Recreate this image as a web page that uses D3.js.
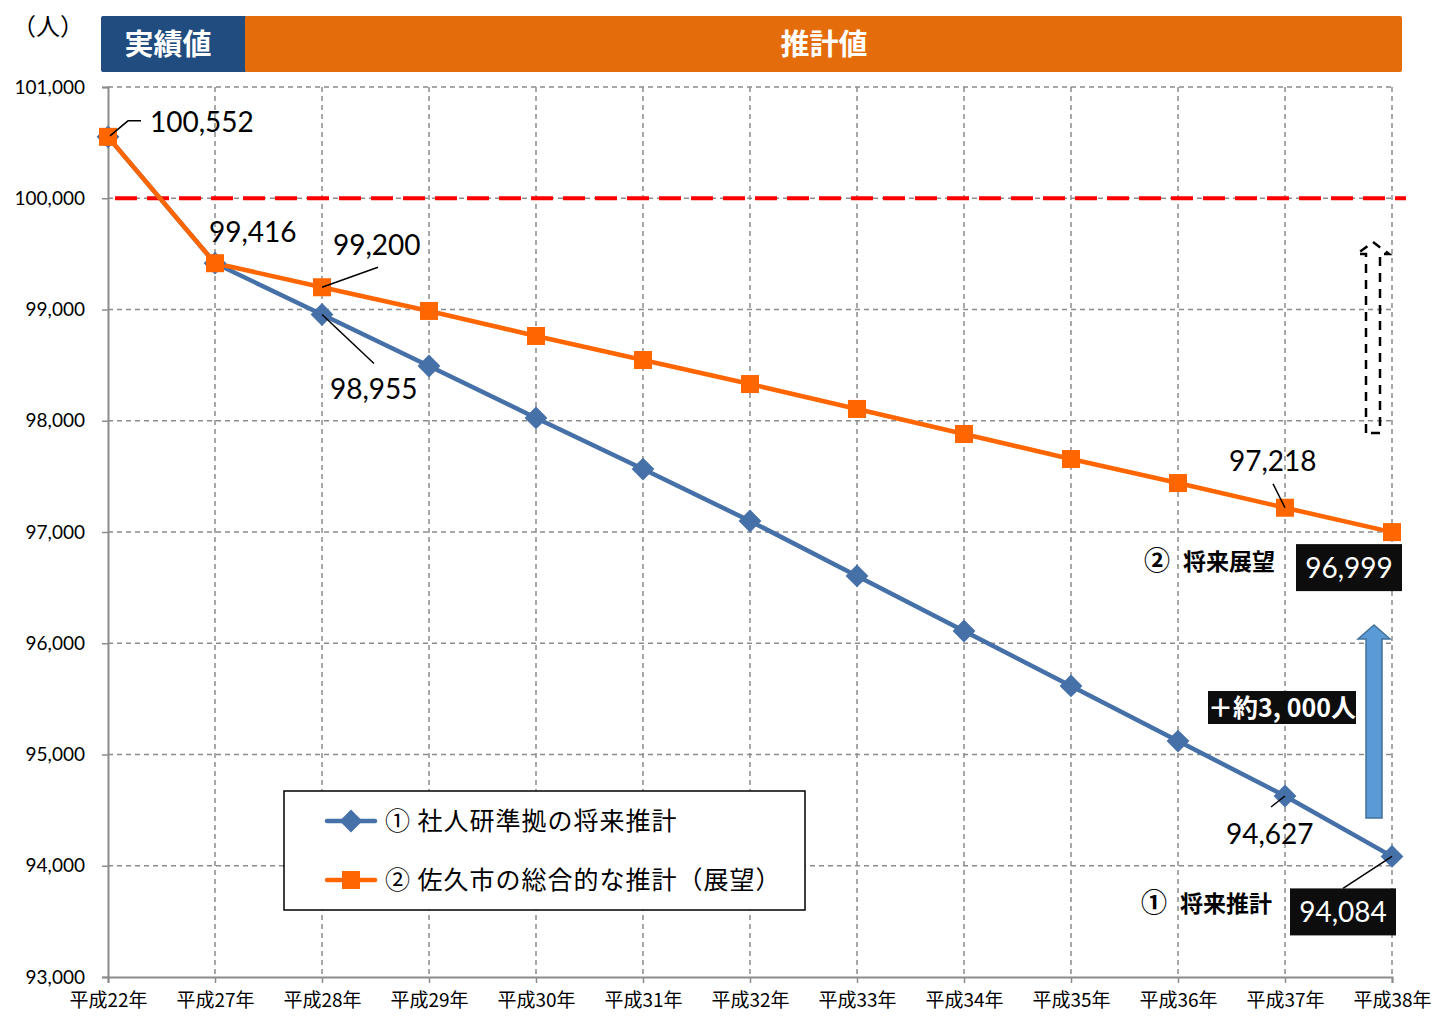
<!DOCTYPE html>
<meta charset="utf-8">
<style>
body { margin: 0; background: #fff; }
text { font-family: "Noto Sans CJK JP", "Noto Sans", sans-serif; }
.num { font-family: Lato, "Noto Sans", sans-serif; }
.grid line { stroke: #8c8c8c; stroke-width: 1.5; stroke-dasharray: 5,4; }
</style>
<body>
<svg class="chart" width="1434" height="1016"></svg>
<script src="https://d3js.org/d3.v7.min.js"></script>
<script>
"use strict";

// data
var years = ["平成22年", "平成27年", "平成28年", "平成29年", "平成30年", "平成31年", "平成32年",
  "平成33年", "平成34年", "平成35年", "平成36年", "平成37年", "平成38年"];
var series1 = [100552, 99416, 98955, 98492, 98025, 97566, 97099, 96605, 96110, 95616, 95121, 94627, 94084];
var series2 = [100552, 99416, 99200, 98987, 98762, 98546, 98330, 98106, 97881, 97656, 97440, 97218, 96999];
var seriesNames = ["① 社人研準拠の将来推計", "② 佐久市の総合的な推計（展望）"];
var yTicks = [93000, 94000, 95000, 96000, 97000, 98000, 99000, 100000, 101000];
var target = 100000;

var blue = "#4570a8", orange = "#ff6600";

var svg = d3.select(".chart");
var x = d3.scalePoint().domain(years).range([108, 1392]);
var y = d3.scaleLinear().domain([93000, 101000]).range([977, 87]);
var fmt = d3.format(",");

// header bars
svg.append("rect").attr("x", 101).attr("y", 16).attr("width", 146).attr("height", 56).attr("rx", 2).attr("fill", "#214c80");
svg.append("rect").attr("x", 245).attr("y", 16).attr("width", 1157).attr("height", 56).attr("rx", 2).attr("fill", "#e46c0a");
svg.append("text").attr("x", 168).attr("y", 55).attr("text-anchor", "middle").attr("fill", "#fff")
  .style("font-size", "29px").style("font-weight", "bold").text("実績値");
svg.append("text").attr("x", 824).attr("y", 55).attr("text-anchor", "middle").attr("fill", "#fff")
  .style("font-size", "29px").style("font-weight", "bold").text("推計値");
svg.append("text").attr("x", 12).attr("y", 35).style("font-size", "24px").text("（人）");

// grid
var grid = svg.append("g").attr("class", "grid");
grid.selectAll(".h").data(yTicks.slice(1)).enter().append("line")
  .attr("x1", 108).attr("x2", 1392).attr("y1", y).attr("y2", y);
grid.selectAll(".v").data(years.slice(1)).enter().append("line")
  .attr("x1", x).attr("x2", x).attr("y1", 87).attr("y2", 977);

// axes
var yAxis = d3.axisLeft(y).tickValues(yTicks).tickFormat(fmt).tickSize(6).tickPadding(17);
var gy = svg.append("g").attr("transform", "translate(108,0)").call(yAxis);
var xAxis = d3.axisBottom(x).tickSize(6).tickPadding(11);
var gx = svg.append("g").attr("transform", "translate(0,977)").call(xAxis);
[gy, gx].forEach(function (g) {
  g.select(".domain").attr("stroke", "#8c8c8c").attr("stroke-width", 2);
  g.selectAll(".tick line").attr("stroke", "#8c8c8c").attr("stroke-width", 1.5);
});
gy.selectAll(".tick text").attr("class", "num").style("font-size", "19px").attr("fill", "#000");
gx.selectAll(".tick text").style("font-size", "19px").attr("fill", "#000");

// target line
svg.append("line").attr("x1", 115).attr("x2", 1406).attr("y1", y(target)).attr("y2", y(target))
  .attr("stroke", "#ff0000").attr("stroke-width", 4).attr("stroke-dasharray", "22,10");

// lines
var line = d3.line().x(function (d, i) { return x(years[i]); }).y(function (d) { return y(d); });
svg.append("path").datum(series1).attr("d", line).attr("fill", "none").attr("stroke", blue).attr("stroke-width", 4.5);
svg.append("path").datum(series2).attr("d", line).attr("fill", "none").attr("stroke", orange).attr("stroke-width", 4.5);

var diamond = d3.symbol().type(d3.symbolSquare).size(260);
svg.selectAll(".m1").data(series1).enter().append("path")
  .attr("d", diamond)
  .attr("transform", function (d, i) { return "translate(" + x(years[i]) + "," + y(d) + ") rotate(45)"; })
  .attr("fill", blue);
svg.selectAll(".m2").data(series2).enter().append("rect")
  .attr("x", function (d, i) { return x(years[i]) - 9; })
  .attr("y", function (d) { return y(d) - 9; })
  .attr("width", 18).attr("height", 18).attr("fill", orange);

// data labels with leader lines
function label(vals, i, tx, ty, lead) {
  var px = x(years[i]), py = y(vals[i]);
  if (lead) {
    svg.append("polyline").attr("fill", "none").attr("stroke", "#000").attr("stroke-width", 1.5)
      .attr("points", lead.map(function (p) { return (px + p[0]) + "," + (py + p[1]); }).join(" "));
  }
  svg.append("text").attr("class", "num").attr("x", px + tx).attr("y", py + ty)
    .style("font-size", "28px").text(fmt(vals[i]));
}
label(series2, 0, 42, -5, [[2, -1], [20, -16], [33, -16]]);
label(series1, 1, -6, -21, null);
label(series2, 2, 11, -32, [[0, 0], [56, -20]]);
label(series1, 2, 8, 84, [[0, 0], [52, 49]]);
label(series2, 11, -56, -37, [[0, 0], [-12, -24]]);
label(series1, 11, -59, 48, [[0, 0], [-14, 11]]);

// boxed end values
function boxLabel(vals, i, bx, by, lead) {
  var px = x(years[i]), py = y(vals[i]);
  if (lead) {
    svg.append("line").attr("x1", px).attr("y1", py).attr("x2", px + lead[0]).attr("y2", py + lead[1])
      .attr("stroke", "#000").attr("stroke-width", 1.5);
  }
  svg.append("rect").attr("x", px + bx).attr("y", py + by).attr("width", 106).attr("height", 47).attr("fill", "#0d0d0d");
  svg.append("text").attr("class", "num").attr("x", px + bx + 53).attr("y", py + by + 34)
    .attr("text-anchor", "middle").attr("fill", "#fff").style("font-size", "28px").text(fmt(vals[i]));
}
boxLabel(series2, 12, -96, 12, null);
boxLabel(series1, 12, -102, 32, [-49, 32]);

function tag(tx, ty, num, word) {
  svg.append("text").attr("x", tx).attr("y", ty).style("font-size", "26px").style("font-weight", "bold").text(num);
  svg.append("text").attr("x", tx + 39).attr("y", ty).style("font-size", "23px").style("font-weight", "bold").text(word);
}
tag(1144, 570, "②", "将来展望");
tag(1141, 912, "①", "将来推計");

// +3,000 arrow
var gap = series2[12] - series1[12];
svg.append("path")
  .attr("d", "M1366,818 V639 H1358 L1374,625 L1390,639 H1382 V818 Z")
  .attr("fill", "#5b9bd5").attr("stroke", "#41719c").attr("stroke-width", 1.5);
svg.append("rect").attr("x", 1208).attr("y", 691).attr("width", 148).attr("height", 33).attr("fill", "#0d0d0d");
svg.append("text").attr("x", 1282).attr("y", 717).attr("text-anchor", "middle").attr("fill", "#fff")
  .style("font-size", "25px").style("font-weight", "bold")
  .text("＋約" + fmt(Math.round(gap / 1000) * 1000).replace(",", ", ") + "人");

// dashed outline arrow
svg.append("path")
  .attr("d", "M1366,433 V254 H1357 L1373,242 L1389,254 H1380 V433 Z")
  .attr("fill", "none").attr("stroke", "#000").attr("stroke-width", 2.5).attr("stroke-dasharray", "9,7");

// legend
svg.append("rect").attr("x", 284).attr("y", 791).attr("width", 521).attr("height", 119)
  .attr("fill", "#fff").attr("stroke", "#000").attr("stroke-width", 1.5);
var lg = svg.selectAll(".lg").data(seriesNames).enter().append("g")
  .attr("transform", function (d, i) { return "translate(0," + (821 + i * 59) + ")"; });
lg.append("line").attr("x1", 327).attr("x2", 375).attr("y1", 0).attr("y2", 0)
  .attr("stroke", function (d, i) { return i ? orange : blue; }).attr("stroke-width", 4.5).attr("stroke-linecap", "round");
lg.filter(function (d, i) { return i === 0; }).append("path").attr("d", diamond)
  .attr("transform", "translate(351,0) rotate(45)").attr("fill", blue);
lg.filter(function (d, i) { return i === 1; }).append("rect")
  .attr("x", 342).attr("y", -9).attr("width", 18).attr("height", 18).attr("fill", orange);
lg.append("text").attr("x", 385).attr("y", 9).style("font-size", "25px").style("letter-spacing", "1px")
  .text(function (d) { return d; });
</script>
</body>
